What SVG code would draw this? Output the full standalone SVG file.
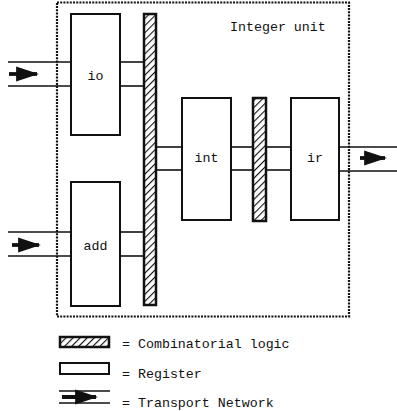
<svg xmlns="http://www.w3.org/2000/svg" width="397" height="411" viewBox="0 0 397 411">
<defs>
<pattern id="hatch" patternUnits="userSpaceOnUse" width="5" height="5" patternTransform="rotate(45)">
<rect width="5" height="5" fill="#fff"/>
<line x1="0" y1="0" x2="0" y2="5" stroke="#111" stroke-width="2.2"/>
</pattern>
<marker id="ah" markerWidth="6" markerHeight="4" refX="5.5" refY="2" orient="auto" markerUnits="strokeWidth">
<path d="M0,0 L6,2 L0,4 Z" fill="#111"/>
</marker>
</defs>
<style>
.reg{fill:#fff;stroke:#111;stroke-width:2}
.comb{fill:url(#hatch);stroke:#111;stroke-width:2.5}
.wire{stroke:#111;stroke-width:1.6;fill:none}
.arrow{stroke:#111;stroke-width:3.8;fill:none;marker-end:url(#ah)}
.border{fill:none;stroke:#111;stroke-width:2.2;stroke-dasharray:2 1.2}
text{font-family:"Liberation Mono","Courier New",monospace;font-size:13.3px;fill:#111}
.lbl{text-anchor:middle}
</style>
<g id="integer-unit">
<rect class="border" x="57" y="2.5" width="292" height="314"/>
<text x="230" y="31">Integer unit</text>
</g>
<g id="connectors">
<line class="wire" x1="8" y1="62" x2="71" y2="62"/>
<line class="wire" x1="8" y1="86" x2="71" y2="86"/>
<line class="arrow" x1="9" y1="74" x2="37" y2="74"/>
<line class="wire" x1="120" y1="62" x2="143" y2="62"/>
<line class="wire" x1="120" y1="86" x2="143" y2="86"/>
<line class="wire" x1="8" y1="232" x2="71" y2="232"/>
<line class="wire" x1="8" y1="256" x2="71" y2="256"/>
<line class="arrow" x1="12" y1="245" x2="39" y2="245"/>
<line class="wire" x1="120" y1="232" x2="143" y2="232"/>
<line class="wire" x1="120" y1="256" x2="143" y2="256"/>
<line class="wire" x1="156" y1="147" x2="182" y2="147"/>
<line class="wire" x1="156" y1="170" x2="182" y2="170"/>
<line class="wire" x1="231" y1="147" x2="252" y2="147"/>
<line class="wire" x1="231" y1="170" x2="252" y2="170"/>
<line class="wire" x1="267" y1="147" x2="291" y2="147"/>
<line class="wire" x1="267" y1="170" x2="291" y2="170"/>
<line class="wire" x1="339" y1="147" x2="397" y2="147"/>
<line class="wire" x1="339" y1="171" x2="397" y2="171"/>
<line class="arrow" x1="360" y1="158" x2="385" y2="158"/>
</g>
<g id="io">
<rect class="reg" x="71" y="14" width="49" height="121"/>
<text class="lbl" x="95.5" y="80">io</text>
</g>
<g id="add">
<rect class="reg" x="71" y="182" width="49" height="124"/>
<text class="lbl" x="95.5" y="250">add</text>
</g>
<g id="comb1">
<rect class="comb" x="144" y="14" width="12" height="291"/>
</g>
<g id="int">
<rect class="reg" x="182" y="98" width="49" height="122"/>
<text class="lbl" x="206.5" y="162">int</text>
</g>
<g id="comb2">
<rect class="comb" x="253" y="98" width="13" height="123"/>
</g>
<g id="ir">
<rect class="reg" x="291" y="98" width="48" height="122"/>
<text class="lbl" x="315" y="162">ir</text>
</g>
<g id="legend">
<rect class="comb" x="60" y="337" width="49" height="10"/>
<text x="122" y="348">= Combinatorial logic</text>
<rect class="reg" x="60" y="363" width="49" height="11"/>
<text x="122" y="378">= Register</text>
<line class="wire" x1="59" y1="391" x2="110" y2="391"/>
<line class="wire" x1="59" y1="403" x2="110" y2="403"/>
<line class="arrow" x1="62" y1="397" x2="96" y2="397"/>
<text x="122" y="407">= Transport Network</text>
</g>
</svg>
